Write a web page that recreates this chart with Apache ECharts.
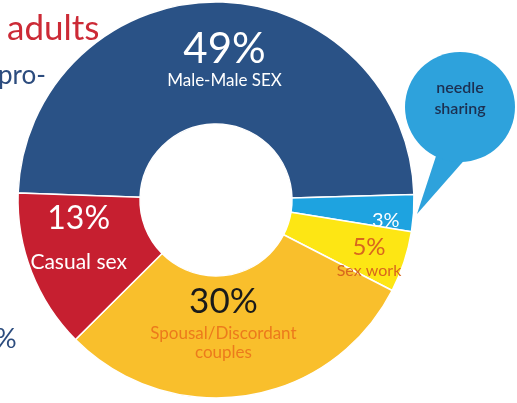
<!DOCTYPE html>
<html>
<head>
<meta charset="utf-8">
<script src="https://cdn.jsdelivr.net/npm/echarts@6/dist/echarts.min.js"></script>
<style>
  html, body { margin: 0; padding: 0; background: #fff; }
  #chart { width: 517px; height: 403px; }
</style>
</head>
<body>
<div id="chart"></div>
<script>
// data
const categories = ['Male-Male SEX', 'needle sharing', 'Sex work', 'Spousal/Discordant\ncouples', 'Casual sex'];
const shares = [49, 3, 5, 30, 13];
const sliceColors = ['#2a5286', '#1ea3e0', '#fde614', '#f9bf2c', '#c61f30'];

// label look per slice
const pctStyle = [
    { color: '#fff', fontSize: 42, lineHeight: 44 },
    { color: '#fff', fontSize: 20, lineHeight: 22 },
    { color: '#d8661e', fontSize: 24, lineHeight: 26 },
    { color: '#1a1a1a', fontSize: 35, lineHeight: 46 },
    { color: '#fff', fontSize: 32, lineHeight: 62 }
];
const nameStyle = [
    { color: '#fff', fontSize: 17, lineHeight: 20 },
    null,
    { color: '#d8661e', fontSize: 16, lineHeight: 20 },
    { color: '#ec7a1c', fontSize: 17, lineHeight: 19 },
    { color: '#fff', fontSize: 21, lineHeight: 24 }
];
const labelShift = [[8, -1], [30, 11], [20, 14], [-14, -18], [-7, -20]];

const chart = echarts.init(document.getElementById('chart'));

const seriesData = categories.map((name, i) => {
    const rich = {
        p: Object.assign({ fontFamily: 'Lato' }, pctStyle[i])
    };
    let fmt = '{p|' + shares[i] + '%}';
    if (nameStyle[i]) {
        rich.n = Object.assign({ fontFamily: 'Lato' }, nameStyle[i]);
        fmt += '\n' + name.split('\n').map(t => '{n|' + t + '}').join('\n');
    }
    return {
        name: name,
        value: shares[i],
        itemStyle: { color: sliceColors[i] },
        label: { formatter: fmt, rich: rich }
    };
});

const option = {
    animation: false,
    series: [{
        type: 'pie',
        center: [216, 200],
        radius: [76, 198],
        startAngle: 178,
        clockwise: true,
        avoidLabelOverlap: false,
        itemStyle: { borderColor: '#fff', borderWidth: 1.5 },
        label: { show: true, position: 'inside', align: 'center' },
        labelLine: { show: false },
        labelLayout: function (params) {
            const s = labelShift[params.dataIndex];
            return { dx: s[0], dy: s[1] };
        },
        data: seriesData
    }],
    graphic: [
        // speech bubble for needle sharing
        { type: 'polygon', shape: { points: [[438, 150], [468, 156], [417, 214]] }, style: { fill: '#2ea2dc' }, z: 10 },
        { type: 'circle', shape: { cx: 460, cy: 107, r: 55 }, style: { fill: '#2ea2dc' }, z: 10 },
        { type: 'text', x: 460, y: 98, z: 11, style: { text: 'needle\nsharing', fill: '#1c2f50', font: '600 16px Lato', align: 'center', verticalAlign: 'middle', lineHeight: 21 } },
        // cropped text from the slide
        { type: 'text', x: 7, y: 11, style: { text: 'adults', fill: '#cc2a36', font: '35px Lato' } },
        { type: 'text', x: -2, y: 63, style: { text: 'pro-', fill: '#2c4c7e', font: '26px Lato' } },
        { type: 'text', x: -5, y: 326, style: { text: '%', fill: '#2c4c7e', font: '27px Lato' } }
    ]
};
chart.setOption(option);
</script>
</body>
</html>
